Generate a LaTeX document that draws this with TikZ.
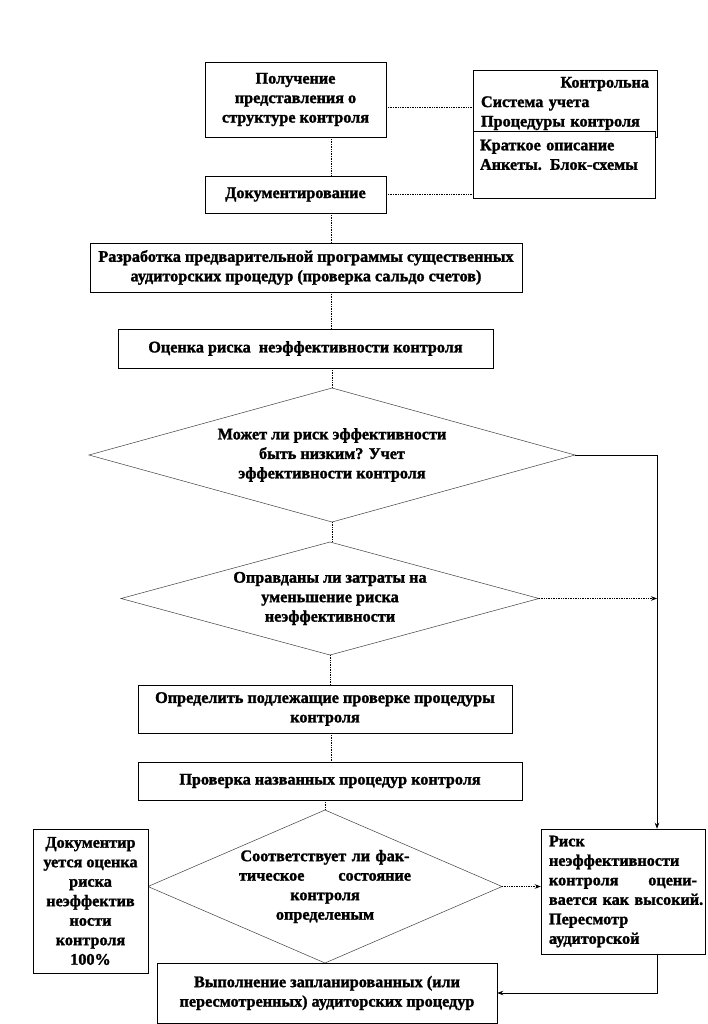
\documentclass[tikz,border=0pt]{standalone}
\usepackage{fontspec}
\setmainfont{Liberation Serif}[BoldFeatures={FakeBold=1.5}]
\usetikzlibrary{arrows.meta,shapes.geometric,calc}

\begin{document}
\begin{tikzpicture}[x=1pt,y=-1pt,
  blk/.style={draw, line width=0.5pt, fill=white, align=center, inner sep=2pt, font=\fontsize{16.2}{19.5}\selectfont\bfseries},
  note/.style={blk, align=left, text width=#1},
  dec/.style={draw=black!75, diamond, line width=0.5pt, inner sep=0pt, outer sep=0pt, align=center, font=\fontsize{16.2}{19.5}\selectfont\bfseries},
  link/.style={densely dotted, line width=0.7pt},
  arr/.style={-{Stealth[length=6pt,width=4.5pt]}, line width=0.7pt}
]
  \useasboundingbox (0,0) rectangle (707,1024);
  \fill[white] (0,0) rectangle (707,1024);

  % Main column
  \node[blk, minimum width=181, minimum height=75] (b1) at (295.5,99.5) {Получение\\представления о\\структуре контроля};
  \node[blk, minimum width=181, minimum height=37] (doc) at (295.5,194.5) {Документирование};
  \node[blk, minimum width=432, minimum height=49] (prog) at (306,267.5) {Разработка предварительной программы существенных\\аудиторских процедур (проверка сальдо счетов)};
  \node[blk, minimum width=375, minimum height=39] (risk) at (305.5,348.5) {Оценка риска\ \ неэффективности контроля};

  % Side notes
  \node[note=168, minimum width=184, minimum height=67] (rA) at (565,103.5) {\makebox[\linewidth][r]{Контрольна}\\Система учета\\Процедуры контроля};
  \node[note=168, minimum width=182, minimum height=67] (rB) at (564,164.5) {Краткое описание\\Анкеты. Блок-схемы\\\mbox{}};

  % Decisions
  \node[dec, aspect=3.63, minimum width=486, minimum height=134] (d1) at (332,455) {Может ли риск эффективности\\быть низким? Учет\\эффективности контроля};
  \node[dec, aspect=3.7, minimum width=418, minimum height=113] (d2) at (330,598.5) {Оправданы ли затраты на\\уменьшение риска\\неэффективности};

  \node[blk, minimum width=374, minimum height=48] (chk) at (325,709) {Определить подлежащие проверке процедуры\\контроля};
  \node[blk, minimum width=384, minimum height=38] (ver) at (330,781) {Проверка названных процедур контроля};

  \node[dec, aspect=2.31, minimum width=354, minimum height=153, text width=172] (d3) at (325,886.5) {Соответствует ли фак-\\\makebox[\linewidth]{тическое\hfill состояние}\\контроля\\определеным};

  \node[blk, minimum width=115, minimum height=144] (lft) at (90.5,901) {Документир\\уется оценка\\риска\\неэффектив\\ности\\контроля\\100\%};
  \node[note=148, minimum width=164, minimum height=125] (rgt) at (623,891.5) {Риск\\неэффективности\\\makebox[\linewidth]{контроля\hfill оцени-}\\\makebox[\linewidth][l]{вается как высокий.}\\Пересмотр\\аудиторской};

  \node[blk, minimum width=340, minimum height=60] (fin) at (327,993) {Выполнение запланированных (или\\пересмотренных) аудиторских процедур};

  % Connectors
  \coordinate (spine) at (331,0);
  \coordinate (rline) at (657,0);
  \draw[link] (b1.south -| spine) -- (doc.north -| spine);
  \draw[link] (doc.south -| spine) -- (prog.north -| spine);
  \draw[link] (prog.south -| spine) -- (risk.north -| spine);
  \draw[link] (d1.north |- risk.south) -- (d1.north);
  \draw[link] (d1.south) -- (d1.south |- d2.north);
  \draw[link] (d2.south) -- (d2.south |- chk.north);
  \draw[link] (chk.south -| spine) -- (ver.north -| spine);
  \draw[link] (d3.north |- ver.south) -- (d3.north);

  \draw[link] ([yshift=-8pt]b1.east) -- ([yshift=-8pt]b1.east -| rA.west);
  \draw[link] (doc.east) -- (doc.east -| rB.west);

  \draw[arr] (d1.east) -- (d1.east -| rline) -- (rgt.north -| rline);
  \draw[arr, densely dotted] (d2.east) -- (d2.east -| rline);
  \draw[arr, densely dotted] (d3.east) -- (d3.east -| rgt.west);
  \draw[arr] (rgt.south -| rline) |- (fin.east);
\end{tikzpicture}
\end{document}
